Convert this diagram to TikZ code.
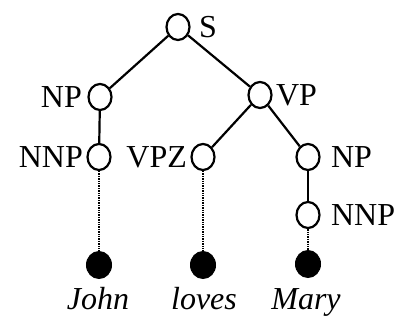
\documentclass[tikz,border=0pt]{standalone}
\usepackage{fontspec}
\setmainfont{Liberation Serif}
\usetikzlibrary{shapes.geometric}
\tikzset{
  inner/.style={ellipse,draw,line width=2.2pt,fill=white,minimum width=23pt,minimum height=26pt,inner sep=0pt},
  leaf/.style={ellipse,draw,fill=black,line width=1pt,minimum width=25pt,minimum height=27pt,inner sep=0pt},
  word/.style={font=\fontsize{32}{34}\selectfont\itshape,anchor=base},
  branch/.style={line width=2.2pt},
  yield/.style={line width=2.8pt,dash pattern=on 1.4pt off 1pt}
}

\begin{document}
\begin{tikzpicture}[x=1pt,y=-1pt,font=\fontsize{32}{34}\selectfont]
  \useasboundingbox (0,0) rectangle (398,320);
  % constituents
  \node[inner,label={[label distance=5pt]right:S}]    (s)    at (178,27)  {};
  \node[inner,label={[label distance=2pt]left:NP}]    (np1)  at (100,97)  {};
  \node[inner,label={[label distance=0pt]right:VP}]   (vp)   at (260,95)  {};
  \node[inner,label={[label distance=0pt]left:NNP}]   (nnp1) at (99,157)  {};
  \node[inner,label={[label distance=0pt]left:VPZ}]   (vpz)  at (203,157) {};
  \node[inner,label={[label distance=7pt]right:NP}]   (np2)  at (308,157) {};
  \node[inner,label={[label distance=7pt]right:NNP}]  (nnp2) at (308,215) {};
  % words
  \node[leaf] (l1) at (99,265)  {};
  \node[leaf] (l2) at (203,265) {};
  \node[leaf] (l3) at (308,264) {};
  \node[word] (w1) at (98,309)  {John};
  \node[word] (w2) at (204,309) {loves};
  \node[word] (w3) at (306,309) {Mary};
  % branches
  \draw[branch] (s) -- (np1);
  \draw[branch] (s) -- (vp);
  \draw[branch] (np1) -- (nnp1);
  \draw[branch] (vp) -- (vpz);
  \draw[branch] (vp) -- (np2);
  \draw[branch] (np2) -- (nnp2);
  \draw[yield] (nnp1) -- (l1);
  \draw[yield] (vpz) -- (l2);
  \draw[yield] (nnp2) -- (l3);
\end{tikzpicture}
\end{document}
